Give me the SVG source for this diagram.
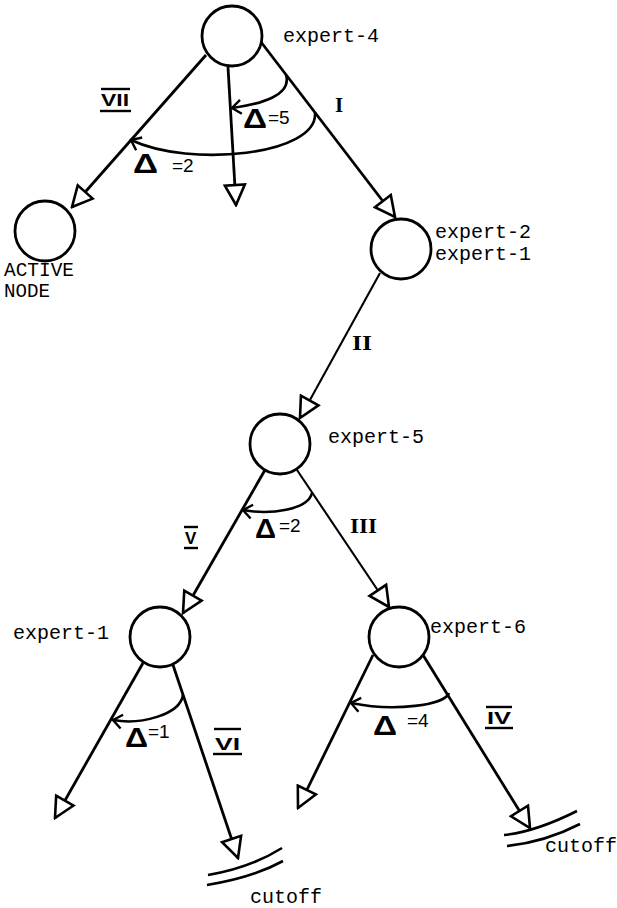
<svg xmlns="http://www.w3.org/2000/svg" width="617" height="908" viewBox="0 0 617 908">
<defs>
<style>
.n{fill:white;stroke:#000;stroke-width:2.8}
.e{fill:none;stroke:#000;stroke-width:2.8;marker-end:url(#tri)}
.e2{fill:none;stroke:#000;stroke-width:2.1;marker-end:url(#tri)}
.arc{fill:none;stroke:#000;stroke-width:2.6;marker-end:url(#chev)}
.cut{fill:none;stroke:#000;stroke-width:2.6}
.bar{stroke:#000;stroke-width:2.4}
.lbl{font-family:"Liberation Mono","Courier New",monospace;font-size:20px;fill:#000}
.rn{font-family:"Liberation Sans",Arial,sans-serif;font-weight:bold;font-size:17px;fill:#000}
.rs{font-family:"Liberation Serif","Times New Roman",serif;font-weight:bold;font-size:21px;fill:#000}
.dl{font-family:"Liberation Sans",Arial,sans-serif;font-weight:bold;font-size:28px;fill:#000}
.dv{font-family:"Liberation Sans",Arial,sans-serif;font-size:19px;fill:#000}
</style>
<marker id="tri" markerUnits="userSpaceOnUse" viewBox="-2 -12 24 24" markerWidth="24" markerHeight="24" refX="20" refY="0" orient="auto">
<path d="M0,-10 L20,0 L0,10 Z" fill="white" stroke="#000" stroke-width="2.6"/>
</marker>
<marker id="chev" markerUnits="userSpaceOnUse" viewBox="-12 -10 14 20" markerWidth="14" markerHeight="20" refX="0" refY="0" orient="auto">
<path d="M-9,-7 L0,0 L-9,7" fill="none" stroke="#000" stroke-width="2.4"/>
</marker>
</defs>
<rect width="617" height="908" fill="white"/>

<g id="connectors">
<path class="e" d="M206,55 L72,207"/>
<path class="e" d="M228,67 L236,205"/>
<path class="e" d="M261,42 L395,217"/>
<path class="e2" d="M380,273 L300,418"/>
<path class="e" d="M265,470 L183,613"/>
<path class="e2" d="M297,470 L389,607"/>
<path class="e" d="M143,663 L55,818"/>
<path class="e" d="M173,665 L238,858"/>
<path class="e" d="M373,655 L298,808"/>
<path class="e" d="M423,655 L530,828"/>
<path class="arc" d="M286,75 C292,95 262,104 232,108"/>
<path class="arc" d="M315,113 C318,155 190,168 131,140"/>
<path class="arc" d="M312,493 C308,510 270,515 243,510"/>
<path class="arc" d="M183,695 C180,715 140,725 113,720"/>
<path class="arc" d="M449,693 C445,705 395,712 351,703"/>
<path class="cut" d="M208,875 Q250,868 282,848"/>
<path class="cut" d="M207,885 Q252,878 283,861"/>
<path class="cut" d="M504,835 Q535,832 577,811"/>
<path class="cut" d="M507,846 Q545,842 580,824"/>
</g>

<g id="node-expert-4">
<circle class="n" cx="232" cy="36" r="30"/>
<text class="lbl" x="283" y="42">expert-4</text>
</g>
<g id="node-active">
<circle class="n" cx="45" cy="231" r="30"/>
<text class="lbl" x="4" y="276" font-size="18" textLength="70" lengthAdjust="spacingAndGlyphs">ACTIVE</text>
<text class="lbl" x="4" y="297" font-size="18" textLength="46" lengthAdjust="spacingAndGlyphs">NODE</text>
</g>
<g id="node-expert-2">
<circle class="n" cx="401" cy="249" r="30"/>
<text class="lbl" x="435" y="238">expert-2</text>
<text class="lbl" x="435" y="260">expert-1</text>
</g>
<g id="node-expert-5">
<circle class="n" cx="280" cy="444" r="30"/>
<text class="lbl" x="328" y="443">expert-5</text>
</g>
<g id="node-expert-1">
<circle class="n" cx="160" cy="637" r="30"/>
<text class="lbl" x="13" y="639">expert-1</text>
</g>
<g id="node-expert-6">
<circle class="n" cx="399" cy="637" r="30"/>
<text class="lbl" x="430" y="633">expert-6</text>
</g>
<g id="cutoff-labels">
<text class="lbl" x="250" y="903" font-size="19">cutoff</text>
<text class="lbl" x="545" y="852" font-size="19">cutoff</text>
</g>

<g id="edge-labels">
<line class="bar" x1="101" y1="89" x2="130" y2="89"/>
<text class="rn" x="101" y="106" textLength="28" lengthAdjust="spacingAndGlyphs">VII</text>
<line class="bar" x1="100" y1="111" x2="131" y2="111"/>
<text class="rs" x="339" y="112" text-anchor="middle">I</text>
<text class="rs" x="352" y="350" textLength="20" lengthAdjust="spacingAndGlyphs">II</text>
<text class="rs" x="350" y="533" textLength="27" lengthAdjust="spacingAndGlyphs">III</text>
<line class="bar" x1="184" y1="527" x2="198" y2="527"/>
<text class="rn" x="185" y="544">V</text>
<line class="bar" x1="184" y1="548" x2="198" y2="548"/>
<line class="bar" x1="214" y1="729" x2="241" y2="729"/>
<text class="rn" x="215" y="750" textLength="25" lengthAdjust="spacingAndGlyphs">VI</text>
<line class="bar" x1="213" y1="754" x2="242" y2="754"/>
<line class="bar" x1="486" y1="707" x2="512" y2="707"/>
<text class="rn" x="487" y="724" textLength="24" lengthAdjust="spacingAndGlyphs">IV</text>
<line class="bar" x1="485" y1="728" x2="513" y2="728"/>
<text class="dl" x="243" y="128" textLength="24" lengthAdjust="spacingAndGlyphs">Δ</text><text class="dv" x="268" y="124">=5</text>
<text class="dl" x="133" y="173" textLength="25" lengthAdjust="spacingAndGlyphs">Δ</text><text class="dv" x="172" y="172">=2</text>
<text class="dl" x="255" y="538" font-size="23" textLength="21" lengthAdjust="spacingAndGlyphs">Δ</text><text class="dv" x="279" y="532" font-size="17">=2</text>
<text class="dl" x="125" y="747" font-size="24" textLength="23" lengthAdjust="spacingAndGlyphs">Δ</text><text class="dv" x="148" y="738" font-size="17">=1</text>
<text class="dl" x="373" y="735" font-size="25" textLength="24" lengthAdjust="spacingAndGlyphs">Δ</text><text class="dv" x="407" y="727" font-size="17">=4</text>
</g>
</svg>
